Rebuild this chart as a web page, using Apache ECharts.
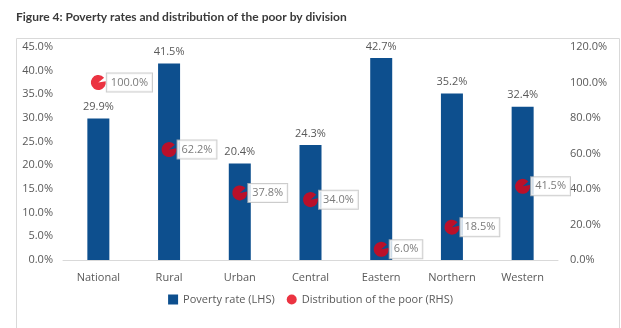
<!DOCTYPE html>
<html>
<head>
<meta charset="utf-8">
<script src="https://cdn.jsdelivr.net/npm/echarts@6/dist/echarts.min.js"></script>
<style>
html,body{margin:0;padding:0;background:#fff;}
#chart{width:621px;height:328px;}
</style>
</head>
<body>
<div id="chart"></div>
<script>
// Divisions along the x axis
var categories = ['National', 'Rural', 'Urban', 'Central', 'Eastern', 'Northern', 'Western'];
// Poverty rate per division, % (left axis)
var povertyRate = [29.9, 41.5, 20.4, 24.3, 42.7, 35.2, 32.4];
// Share of the poor living in each division, % (right axis)
var distribution = [100.0, 62.2, 37.8, 34.0, 6.0, 18.5, 41.5];

var chart = echarts.init(document.getElementById('chart'), null, {renderer: 'canvas'});

var font = '"Open Sans", "Liberation Sans", sans-serif';
var grey = '#595959';
var red = '#e60012';
// red dot with a small notch where the callout line leaves it
var dotPath = 'path://M0 0 L9.85 -1.74 A10 10 0 1 1 7.66 -6.43 Z';

chart.setOption({
  animation: false,
  textStyle: {fontFamily: font},
  title: {
    text: 'Figure 4: Poverty rates and distribution of the poor by division',
    left: 11, top: 6,
    textStyle: {fontFamily: 'Lato, "Open Sans", sans-serif', fontSize: 12, fontWeight: 'bold', color: '#3a3a3a'}
  },
  graphic: [{
    type: 'rect', left: 14, top: 36,
    shape: {width: 603, height: 290},
    style: {fill: 'none', stroke: '#d9d9d9', lineWidth: 1},
    silent: true, z: -1
  }],
  legend: {
    bottom: 18, left: 'center', itemGap: 12,
    itemWidth: 10, itemHeight: 10,
    textStyle: {fontFamily: font, fontSize: 11, color: grey},
    data: [
      {name: 'Poverty rate (LHS)', icon: 'rect', itemStyle: {}},
      {name: 'Distribution of the poor (RHS)', icon: 'circle', itemStyle: {color: red}}
    ]
  },
  grid: {left: 63, right: 63, top: 47, bottom: 68},
  xAxis: {
    type: 'category', data: categories,
    axisLine: {lineStyle: {color: '#d9d9d9'}},
    axisTick: {show: false},
    axisLabel: {fontFamily: font, fontSize: 11, color: grey, margin: 12}
  },
  yAxis: [{
    type: 'value', min: 0, max: 45, interval: 5,
    splitLine: {show: false},
    axisLine: {show: false}, axisTick: {show: false},
    axisLabel: {fontFamily: font, fontSize: 11, color: grey, margin: 10,
      formatter: function (v) { return v.toFixed(1) + '%'; }}
  }, {
    type: 'value', min: 0, max: 120, interval: 20,
    splitLine: {show: false},
    axisLine: {show: false}, axisTick: {show: false},
    axisLabel: {fontFamily: font, fontSize: 11, color: grey, margin: 12,
      formatter: function (v) { return v.toFixed(1) + '%'; }}
  }],
  series: [{
    name: 'Poverty rate (LHS)', type: 'bar', yAxisIndex: 0,
    data: povertyRate, barWidth: 22,
    itemStyle: {color: '#0d4f8e'},
    label: {show: true, position: 'top', distance: 6, fontFamily: font, fontSize: 11, color: grey,
      formatter: function (p) { return p.value.toFixed(1) + '%'; }}
  }, {
    name: 'Distribution of the poor (RHS)', type: 'scatter', yAxisIndex: 1,
    data: distribution,
    symbol: dotPath, symbolSize: 15, symbolKeepAspect: true,
    itemStyle: {color: red},
    z: 5,
    label: {show: true, position: 'right', distance: 1,
      fontFamily: font, fontSize: 11, color: grey,
      backgroundColor: '#ffffff', borderColor: '#bfbfbf', borderWidth: 1,
      padding: [4, 4, 3, 4],
      formatter: function (p) { return p.value.toFixed(1) + '%'; }}
  }]
});
</script>
</body>
</html>
